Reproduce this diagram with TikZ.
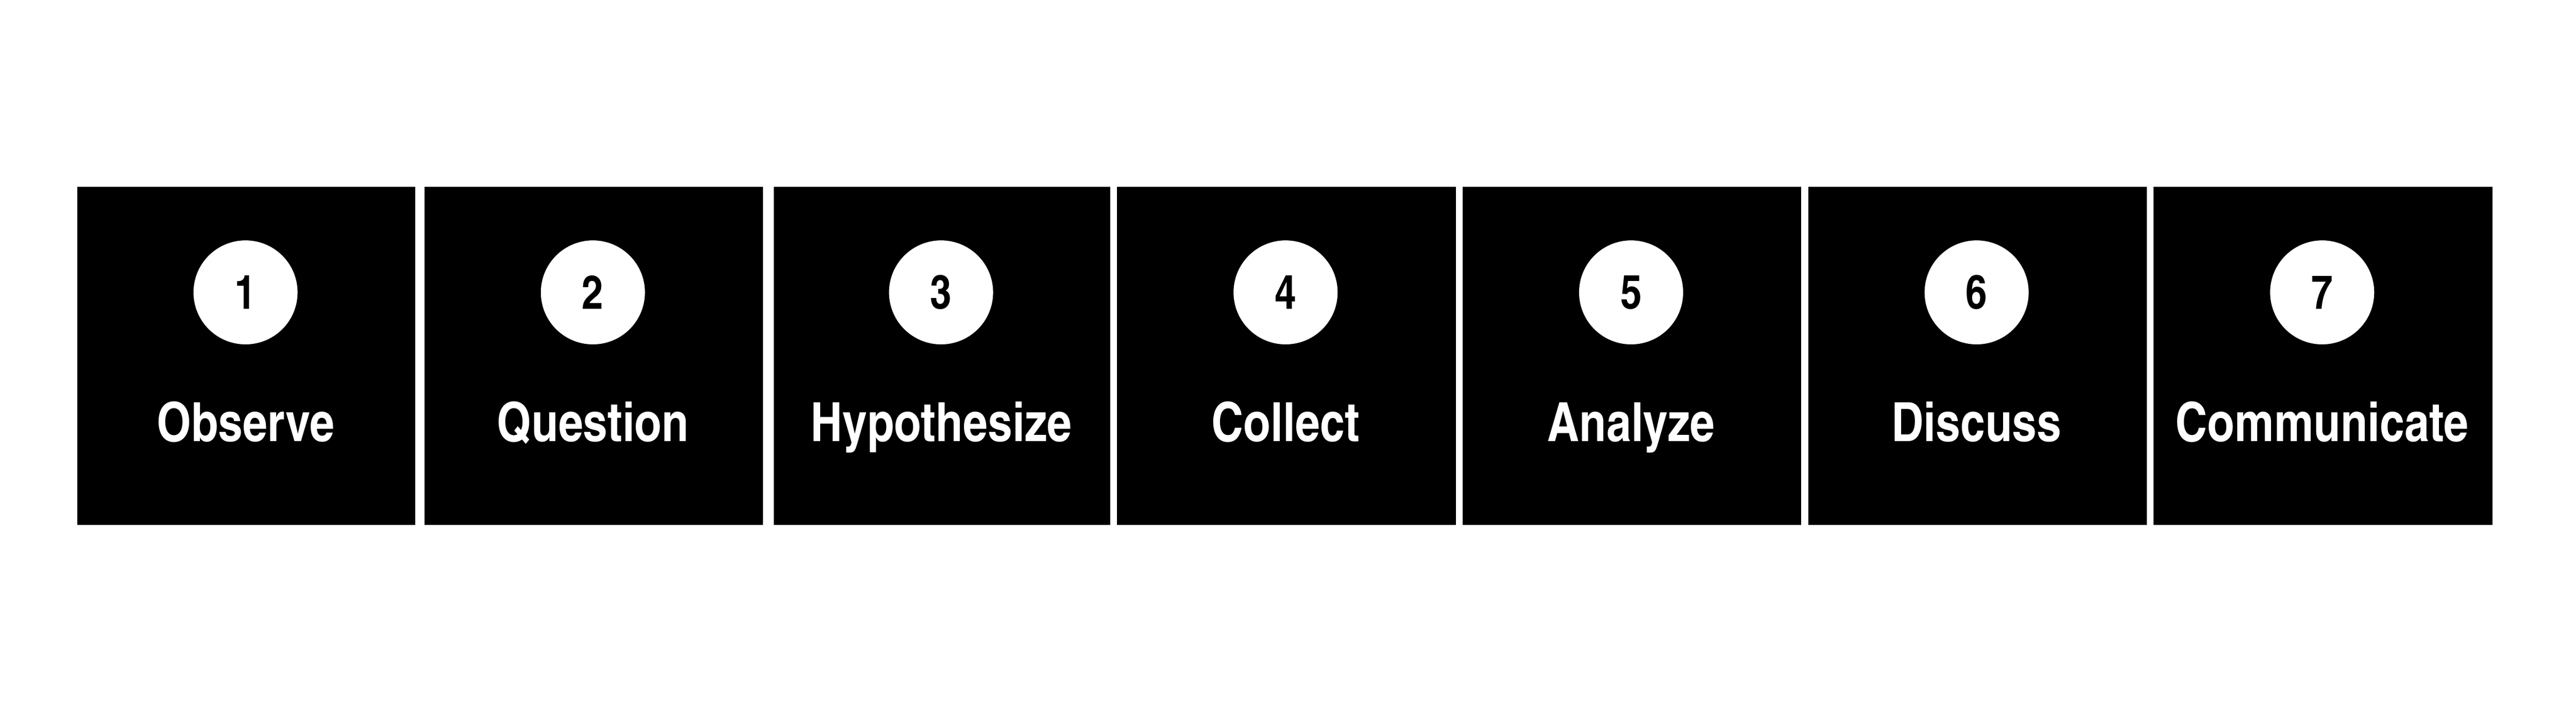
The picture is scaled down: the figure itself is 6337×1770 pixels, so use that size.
\documentclass[tikz,border=0pt]{standalone}
\usepackage{fontspec}
\newfontfamily\cnfont{TeX Gyre Heros Cn}[Scale=1.0]
\begin{document}
\begin{tikzpicture}[x=0.1pt,y=-0.1pt,
  stepbox/.style={fill=black,draw=none,inner sep=0pt,anchor=north west,minimum height=83.3pt},
  numcirc/.style={circle,fill=white,draw=none,inner sep=0pt,minimum size=25.6pt,text=black,font=\cnfont\bfseries\fontsize{11.6pt}{12pt}\selectfont},
  steplabel/.style={text=white,inner sep=0pt,anchor=base,font=\cnfont\bfseries\fontsize{13.3pt}{14pt}\selectfont}]
\useasboundingbox (0,0) rectangle (6337,1770);
\foreach \i/\l/\r/\t in {1/188/1020/Observe,2/1042/1875/Question,3/1901/2729/Hypothesize,4/2746/3579/Collect,5/3596/4429/Analyze,6/4446/5279/Discuss,7/5296/6129/Communicate}{
  \pgfmathsetmacro{\w}{(\r-\l)*0.1}
  \pgfmathsetmacro{\cx}{(\l+\r)/2}
  \node[stepbox,minimum width=\w pt] (b\i) at (\l,458) {};
  \node[numcirc] (c\i) at (\cx,720) {\i};
  \node[steplabel] (t\i) at (\cx,1087) {\t};
}
\end{tikzpicture}
\end{document}
